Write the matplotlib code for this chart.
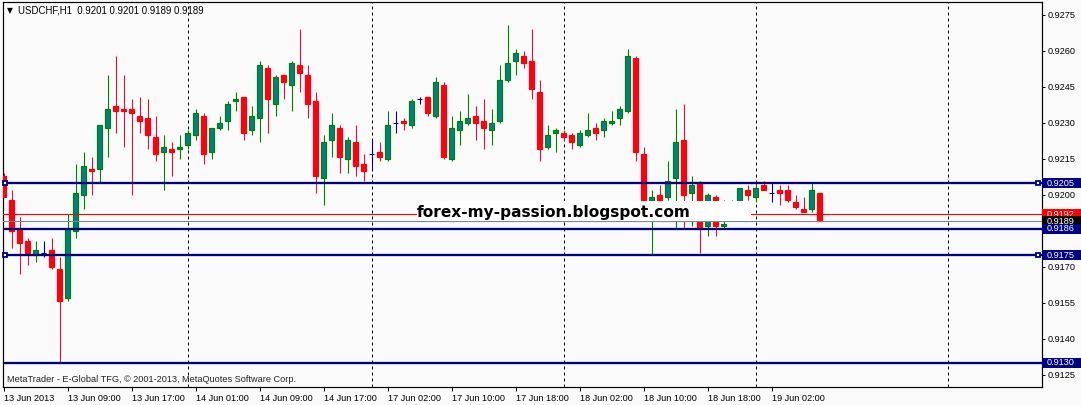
import matplotlib
matplotlib.use("Agg")
import matplotlib.pyplot as plt
from matplotlib.patches import Rectangle

# ---------------- data ----------------
chart_title = "USDCHF,H1  0.9201 0.9201 0.9189 0.9189"
footer_text = "MetaTrader - E-Global TFG, \u00a9 2001-2013, MetaQuotes Software Corp."
watermark_text = "forex-my-passion.blogspot.com"

opens = [0.9208, 0.9198, 0.9186, 0.9181, 0.9175, 0.9176, 0.9177, 0.9169, 0.9157, 0.9185,
         0.9200, 0.9211, 0.9211, 0.9228, 0.9237, 0.9236, 0.9236, 0.9233, 0.9232, 0.9224,
         0.9218, 0.9219, 0.9219, 0.9221, 0.9225, 0.9233, 0.9218, 0.9228, 0.9231, 0.9239,
         0.9241, 0.9227, 0.9232, 0.9253, 0.9238, 0.9250, 0.9246, 0.9254, 0.9250, 0.9239,
         0.9207, 0.9223, 0.9228, 0.9215, 0.9222, 0.9213, 0.9217, 0.9218, 0.9215, 0.9230,
         0.9231, 0.9229, 0.9240, 0.9241, 0.9233, 0.9246, 0.9215, 0.9227, 0.9230, 0.9233,
         0.9231, 0.9227, 0.9231, 0.9248, 0.9256, 0.9258, 0.9256, 0.9243, 0.9220, 0.9226,
         0.9226, 0.9225, 0.9221, 0.9225, 0.9228, 0.9227, 0.9230, 0.9232, 0.9235, 0.9257,
         0.9217, 0.9192, 0.9200, 0.9199, 0.9207, 0.9223, 0.9201, 0.9205, 0.9187, 0.9199,
         0.9187, 0.9190, 0.9197, 0.9202, 0.9199, 0.9204, 0.9201, 0.9202, 0.9202, 0.9197,
         0.9194, 0.9194, 0.9201]
highs = [0.9209, 0.9202, 0.9191, 0.9182, 0.9181, 0.9181, 0.9182, 0.9174, 0.9192, 0.9213,
         0.9218, 0.9216, 0.9229, 0.9250, 0.9258, 0.9250, 0.9240, 0.9241, 0.9240, 0.9233,
         0.9225, 0.9222, 0.9225, 0.9227, 0.9236, 0.9234, 0.9228, 0.9233, 0.9239, 0.9243,
         0.9241, 0.9237, 0.9256, 0.9254, 0.9250, 0.9250, 0.9256, 0.9269, 0.9254, 0.9243,
         0.9225, 0.9234, 0.9229, 0.9224, 0.9229, 0.9217, 0.9223, 0.9222, 0.9235, 0.9235,
         0.9232, 0.9240, 0.9241, 0.9241, 0.9249, 0.9247, 0.9233, 0.9235, 0.9242, 0.9237,
         0.9240, 0.9236, 0.9254, 0.9271, 0.9261, 0.9260, 0.9269, 0.9248, 0.9229, 0.9228,
         0.9227, 0.9226, 0.9227, 0.9234, 0.9230, 0.9232, 0.9235, 0.9237, 0.9261, 0.9258,
         0.9220, 0.9202, 0.9204, 0.9214, 0.9236, 0.9238, 0.9208, 0.9206, 0.9201, 0.9200,
         0.9198, 0.9198, 0.9203, 0.9204, 0.9206, 0.9206, 0.9205, 0.9204, 0.9204, 0.9200,
         0.9199, 0.9205, 0.9201]
lows = [0.9199, 0.9178, 0.9167, 0.9171, 0.9172, 0.9174, 0.9169, 0.9130, 0.9156, 0.9182,
        0.9194, 0.9200, 0.9205, 0.9216, 0.9226, 0.9220, 0.9200, 0.9226, 0.9219, 0.9214,
        0.9202, 0.9208, 0.9215, 0.9219, 0.9223, 0.9213, 0.9215, 0.9227, 0.9227, 0.9235,
        0.9223, 0.9225, 0.9222, 0.9226, 0.9233, 0.9240, 0.9235, 0.9243, 0.9232, 0.9201,
        0.9196, 0.9216, 0.9209, 0.9209, 0.9208, 0.9206, 0.9211, 0.9214, 0.9214, 0.9226,
        0.9227, 0.9228, 0.9238, 0.9233, 0.9232, 0.9215, 0.9214, 0.9221, 0.9229, 0.9223,
        0.9219, 0.9221, 0.9230, 0.9247, 0.9250, 0.9253, 0.9240, 0.9214, 0.9219, 0.9218,
        0.9223, 0.9219, 0.9220, 0.9224, 0.9223, 0.9224, 0.9229, 0.9229, 0.9234, 0.9214,
        0.9190, 0.9175, 0.9193, 0.9198, 0.9186, 0.9186, 0.9187, 0.9176, 0.9183, 0.9183,
        0.9186, 0.9189, 0.9196, 0.9198, 0.9197, 0.9202, 0.9197, 0.9196, 0.9197, 0.9194,
        0.9193, 0.9193, 0.9189]
closes = [0.9199, 0.9185, 0.9180, 0.9176, 0.9177, 0.9176, 0.9170, 0.9156, 0.9186, 0.9201,
          0.9212, 0.9210, 0.9229, 0.9236, 0.9235, 0.9235, 0.9234, 0.9231, 0.9225, 0.9217,
          0.9220, 0.9218, 0.9220, 0.9226, 0.9234, 0.9217, 0.9228, 0.9230, 0.9238, 0.9240,
          0.9226, 0.9233, 0.9254, 0.9240, 0.9249, 0.9247, 0.9255, 0.9251, 0.9238, 0.9208,
          0.9222, 0.9229, 0.9216, 0.9223, 0.9212, 0.9210, 0.9217, 0.9216, 0.9229, 0.9230,
          0.9230, 0.9239, 0.9240, 0.9234, 0.9247, 0.9216, 0.9228, 0.9231, 0.9232, 0.9230,
          0.9228, 0.9230, 0.9248, 0.9255, 0.9259, 0.9255, 0.9244, 0.9219, 0.9225, 0.9227,
          0.9224, 0.9222, 0.9226, 0.9227, 0.9226, 0.9231, 0.9231, 0.9236, 0.9258, 0.9218,
          0.9192, 0.9199, 0.9195, 0.9206, 0.9222, 0.9200, 0.9204, 0.9186, 0.9200, 0.9187,
          0.9188, 0.9193, 0.9203, 0.9200, 0.9203, 0.9202, 0.9201, 0.9201, 0.9198, 0.9195,
          0.9193, 0.9202, 0.9189]

time_tick_bars = [0, 8, 16, 24, 32, 40, 48, 56, 64, 72, 80, 88, 96]
time_tick_labels = ["13 Jun 2013", "13 Jun 09:00", "13 Jun 17:00", "14 Jun 01:00",
                    "14 Jun 09:00", "14 Jun 17:00", "17 Jun 02:00", "17 Jun 10:00",
                    "17 Jun 18:00", "18 Jun 02:00", "18 Jun 10:00", "18 Jun 18:00",
                    "19 Jun 02:00"]
day_separator_bars = [23, 46, 70, 94, 118]

price_ticks = [0.9275, 0.9260, 0.9245, 0.9230, 0.9215, 0.9200, 0.9170, 0.9155, 0.9140, 0.9125]

level_prices = [0.9205, 0.9186, 0.9175, 0.9130]
levels_with_handles = [0.9205, 0.9175]
ask_price = 0.9192
bid_price = 0.9189

# ---------------- style / layout ----------------
W, H = 1081, 405
BG = "#FAFAFA"
BULL_FILL = "#008080"
BULL_EDGE = "#008000"
BEAR_FILL = "#FF0010"
BEAR_WICK = "#DC143C"
DOJI = "#000080"
NAVY = "#000080"
PX = 0.72  # one pixel in points
FONT = "Liberation Sans"
FS = 6.6


def fx(px):
    return px / W


def fy(py):
    return 1 - py / H


fig = plt.figure(figsize=(W / 100, H / 100), dpi=100, facecolor=BG)
ax_left, ax_right, ax_top, ax_bottom = 2.7, 1041.7, 2.3, 387.3
ax = fig.add_axes([fx(ax_left), fy(ax_bottom), fx(ax_right) - fx(ax_left), fy(ax_top) - fy(ax_bottom)])
ax.set_facecolor(BG)

# pixel calibration of the price scale
y_top_px, y_bot_px = 15.0, 375.0
p_top, p_bot = price_ticks[0], price_ticks[-1]
ppu = (y_bot_px - y_top_px) / (p_top - p_bot)
ax.set_ylim(p_bot - (ax_bottom - y_bot_px) / ppu, p_top + (y_top_px - ax_top) / ppu)
bar_px, bar0_px = 8.0, 3.5
ax.set_xlim((ax_left - bar0_px) / bar_px, (ax_right - bar0_px) / bar_px)

# day separators
for b in day_separator_bars:
    ax.axvline(b, color="black", lw=PX, linestyle=(0, (3, 3)), zorder=1)

# candles
n = len(opens)
xs = list(range(n))
body_w = 0.52
for i in xs:
    o, h, l, c = opens[i], highs[i], lows[i], closes[i]
    if abs(c - o) < 1e-9:
        ax.vlines(i, l, h, color=DOJI, lw=PX * 1.1, zorder=3)
        ax.hlines(o, i - 0.34, i + 0.34, color=DOJI, lw=PX * 1.1, zorder=3)
        continue
    if c > o:
        ax.vlines(i, l, h, color=BULL_EDGE, lw=PX * 1.1, zorder=2)
        ax.bar(i, c - o, bottom=o, width=body_w, color=BULL_FILL, edgecolor=BULL_EDGE,
               linewidth=PX * 1.2, zorder=3)
    else:
        ax.vlines(i, l, h, color=BEAR_WICK, lw=PX * 1.1, zorder=2)
        ax.bar(i, o - c, bottom=c, width=body_w, color=BEAR_FILL, edgecolor=BEAR_FILL,
               linewidth=PX * 1.2, zorder=3)

# horizontal levels
for p in level_prices:
    ax.axhline(p, color=NAVY, lw=2.3 * PX, zorder=5)
ax.axhline(ask_price, color="#FF0000", lw=1.1 * PX, zorder=5)
ax.axhline(bid_price, color="#778899", lw=1.1 * PX, zorder=5)
handle_x = [(5 - bar0_px) / bar_px, (1037.7 - bar0_px) / bar_px]
for p in levels_with_handles:
    ax.plot(handle_x, [p, p], linestyle="none", marker="s", markersize=3.4,
            mfc="white", mec=NAVY, mew=1.3, zorder=6, clip_on=False)

# axes look
for s in ax.spines.values():
    s.set_color("black")
    s.set_linewidth(PX * 1.2)
ax.yaxis.tick_right()
ax.set_yticks(price_ticks)
ax.set_yticklabels([f"{p:.4f}" for p in price_ticks], fontsize=FS, family=FONT)
ax.tick_params(axis="y", direction="out", length=3 * PX, width=PX, pad=2, colors="black")
ax.set_xticks(time_tick_bars)
ax.set_xticklabels(time_tick_labels, fontsize=FS, family=FONT, ha="left")
ax.tick_params(axis="x", direction="out", length=3.5 * PX, width=PX, pad=2.5, colors="black")
for lab in ax.get_xticklabels():
    lab.set_horizontalalignment("left")

# right-hand price labels (boxes)
fig.canvas.draw()


def price_box(price, fc, z):
    ydisp = ax.transData.transform((0, price))[1]
    yc = H - ydisp
    hbox = 10
    r = Rectangle((fx(1042.3), fy(yc + hbox / 2)), fx(1081) - fx(1042.3), hbox / H,
                  transform=fig.transFigure, facecolor=fc, edgecolor="none", zorder=z)
    fig.patches.append(r)
    fig.text(fx(1047), fy(yc), f"{price:.4f}", color="white", fontsize=FS, family=FONT,
             va="center", ha="left", zorder=z + 0.5)


price_box(ask_price, "#FF0000", 10)
price_box(bid_price, "#000000", 11)
for p in level_prices:
    price_box(p, NAVY, 12)

# watermark box
wm_x0, wm_x1, wm_y0, wm_y1 = 417, 751, 201, 221
fig.patches.append(Rectangle((fx(wm_x0), fy(wm_y1)), fx(wm_x1) - fx(wm_x0), (wm_y1 - wm_y0) / H,
                             transform=fig.transFigure, facecolor="white", edgecolor="none", zorder=20))
fig.text(fx(wm_x0), fy(212.5), watermark_text, fontsize=11.1, family="DejaVu Sans",
         fontweight="bold", color="black", va="center", ha="left", zorder=21)

# title and footer
fig.text(fx(6.5), fy(10.5), "\u25bc", fontsize=5.5, family="DejaVu Sans", color="black",
         va="center", ha="left")
fig.text(fx(18), fy(10.5), chart_title, fontsize=FS + 0.3, family=FONT, color="black",
         va="center", ha="left")
fig.text(fx(7), fy(379), footer_text, fontsize=FS, family=FONT, color="#222222",
         va="center", ha="left")

fig.savefig("out.png", dpi=100, facecolor=BG)
